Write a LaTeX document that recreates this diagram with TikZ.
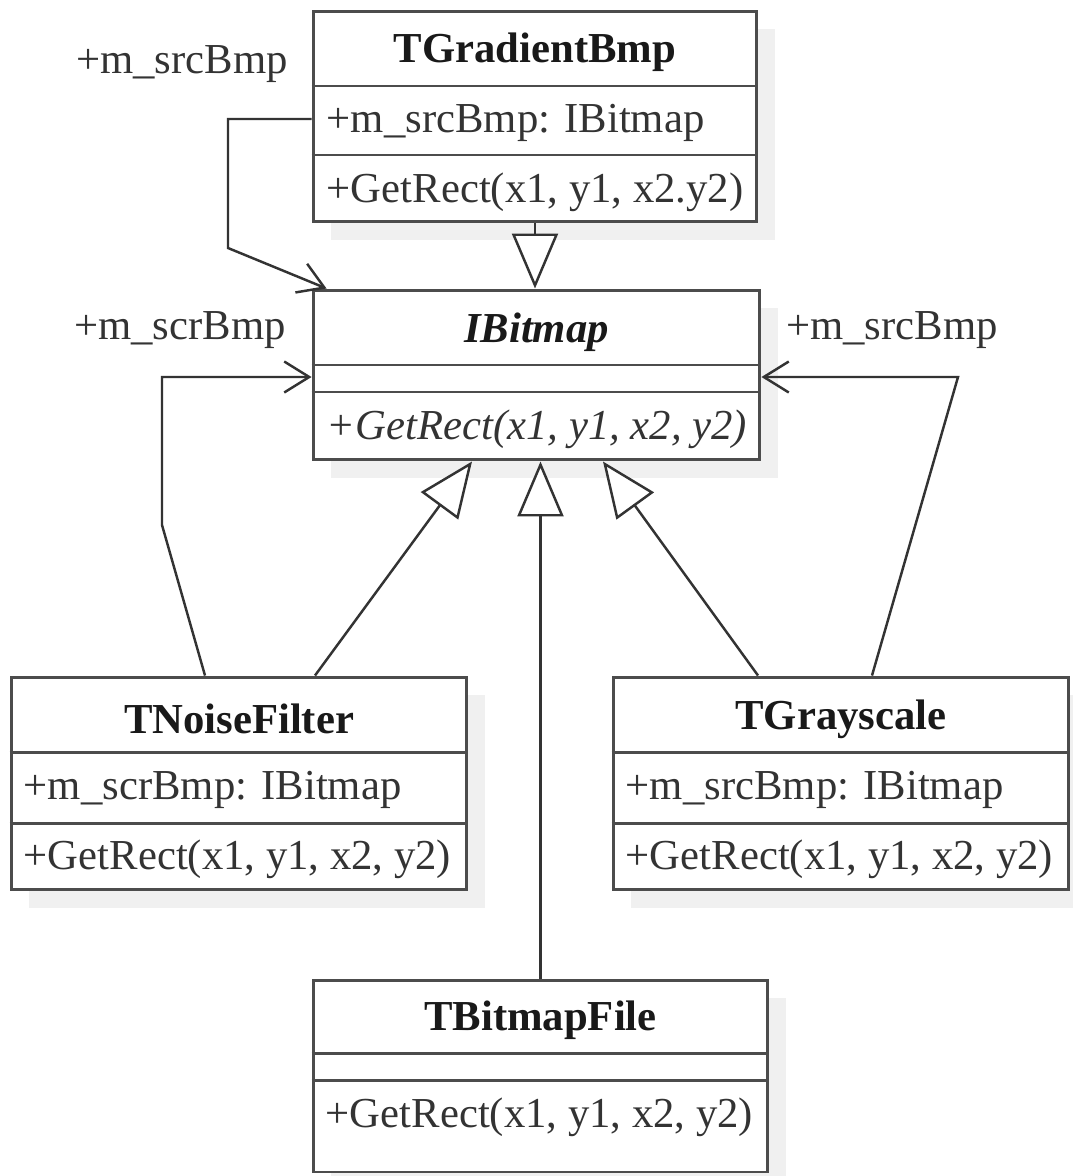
\documentclass[tikz,border=0pt]{standalone}
\usepackage{fontspec}
\setmainfont{Liberation Serif}
\usetikzlibrary{arrows.meta,shadows}

\tikzset{
  classbox/.style={draw=black!70, line width=1.7pt, fill=white,
    general shadow={fill=black!6, shadow xshift=0.36cm, shadow yshift=-0.36cm}},
  divider/.style={draw=black!70, line width=1.7pt},
  title/.style={font=\fontsize{24.3}{28}\selectfont\bfseries, text=black!90, inner sep=0pt},
  member/.style={font=\fontsize{24.3}{28}\selectfont, text=black!80, anchor=west, inner sep=0pt},
  rolelabel/.style={font=\fontsize{24.3}{28}\selectfont, text=black!80, inner sep=0pt},
  assoc/.style={draw=black!80, line width=1.4pt, -{Straight Barb[length=0.5cm, width=0.62cm]}},
  inherit/.style={draw=black!80, line width=1.4pt, -{Triangle[length=1.1cm, width=0.92cm, fill=white]}}
}

\begin{document}
\begin{tikzpicture}[x=0.02cm, y=-0.02cm]
    \useasboundingbox (0,0) rectangle (1072,1176);

    % Class boxes
    \node[classbox, minimum width=8.88cm, minimum height=4.22cm] (grad) at (535,116.5) {};
    \node[classbox, minimum width=8.94cm, minimum height=3.4cm] (ibmp) at (536.5,375) {};
    \node[classbox, minimum width=9.12cm, minimum height=4.26cm] (noise) at (239,783.5) {};
    \node[classbox, minimum width=9.12cm, minimum height=4.26cm] (gray) at (841,783.5) {};
    \node[classbox, minimum width=9.1cm, minimum height=3.84cm] (file) at (540.5,1076) {};

    % Compartment lines
    \draw[divider] (grad.west |- 0,86) -- (grad.east |- 0,86);
    \draw[divider] (grad.west |- 0,155) -- (grad.east |- 0,155);
    \draw[divider] (ibmp.west |- 0,365) -- (ibmp.east |- 0,365);
    \draw[divider] (ibmp.west |- 0,392) -- (ibmp.east |- 0,392);
    \draw[divider] (noise.west |- 0,752) -- (noise.east |- 0,752);
    \draw[divider] (noise.west |- 0,823) -- (noise.east |- 0,823);
    \draw[divider] (gray.west |- 0,752) -- (gray.east |- 0,752);
    \draw[divider] (gray.west |- 0,823) -- (gray.east |- 0,823);
    \draw[divider] (file.west |- 0,1053) -- (file.east |- 0,1053);
    \draw[divider] (file.west |- 0,1080) -- (file.east |- 0,1080);

    % Class texts
    \node[title] (gradT) at (grad.north |- 0,52) {TGradientBmp};
    \node[member] (gradA) at ([xshift=0.3cm]grad.west |- 0,123) {+m\_srcBmp: IBitmap};
    \node[member] (gradO) at ([xshift=0.3cm]grad.west |- 0,192) {+GetRect(x1, y1, x2.y2)};

    \node[title, font=\fontsize{24.3}{28}\selectfont\bfseries\itshape] (ibmpT) at (ibmp.north |- 0,332) {IBitmap};
    \node[member, font=\fontsize{24.3}{28}\selectfont\itshape] (ibmpO) at ([xshift=0.3cm]ibmp.west |- 0,429) {+GetRect(x1, y1, x2, y2)};

    \node[title] (noiseT) at (noise.north |- 0,719) {TNoiseFilter};
    \node[member] (noiseA) at ([xshift=0.28cm]noise.west |- 0,790) {+m\_scrBmp: IBitmap};
    \node[member] (noiseO) at ([xshift=0.28cm]noise.west |- 0,859) {+GetRect(x1, y1, x2, y2)};

    \node[title] (grayT) at (gray.north |- 0,719) {TGrayscale};
    \node[member] (grayA) at ([xshift=0.28cm]gray.west |- 0,790) {+m\_srcBmp: IBitmap};
    \node[member] (grayO) at ([xshift=0.28cm]gray.west |- 0,859) {+GetRect(x1, y1, x2, y2)};

    \node[title] (fileT) at (file.north |- 0,1020) {TBitmapFile};
    \node[member] (fileO) at ([xshift=0.28cm]file.west |- 0,1117) {+GetRect(x1, y1, x2, y2)};

    % Role labels
    \node[rolelabel] (gradR) at (182,64) {+m\_srcBmp};
    \node[rolelabel] (noiseR) at (180,330) {+m\_scrBmp};
    \node[rolelabel] (grayR) at (892,330) {+m\_srcBmp};

    % Associations
    \draw[assoc] (grad.west |- 0,119) -- (228,119) -- (228,248) -- ([xshift=0.3cm]ibmp.north west);
    \draw[assoc] ([xshift=-0.68cm]noise.north) -- (162,525) -- (162,377) -- (ibmp.west |- 0,377);
    \draw[assoc] ([xshift=0.62cm]gray.north) -- (958,377) -- (ibmp.east |- 0,377);

    % Generalisations
    \draw[inherit] (grad.south) -- (grad.south |- ibmp.north);
    \draw[inherit] ([xshift=1.52cm]noise.north) -- ([xshift=-1.29cm]ibmp.south);
    \draw[inherit] (file.north) -- (file.north |- ibmp.south);
    \draw[inherit] ([xshift=-1.66cm]gray.north) -- ([xshift=1.33cm]ibmp.south);

\end{tikzpicture}
\end{document}
